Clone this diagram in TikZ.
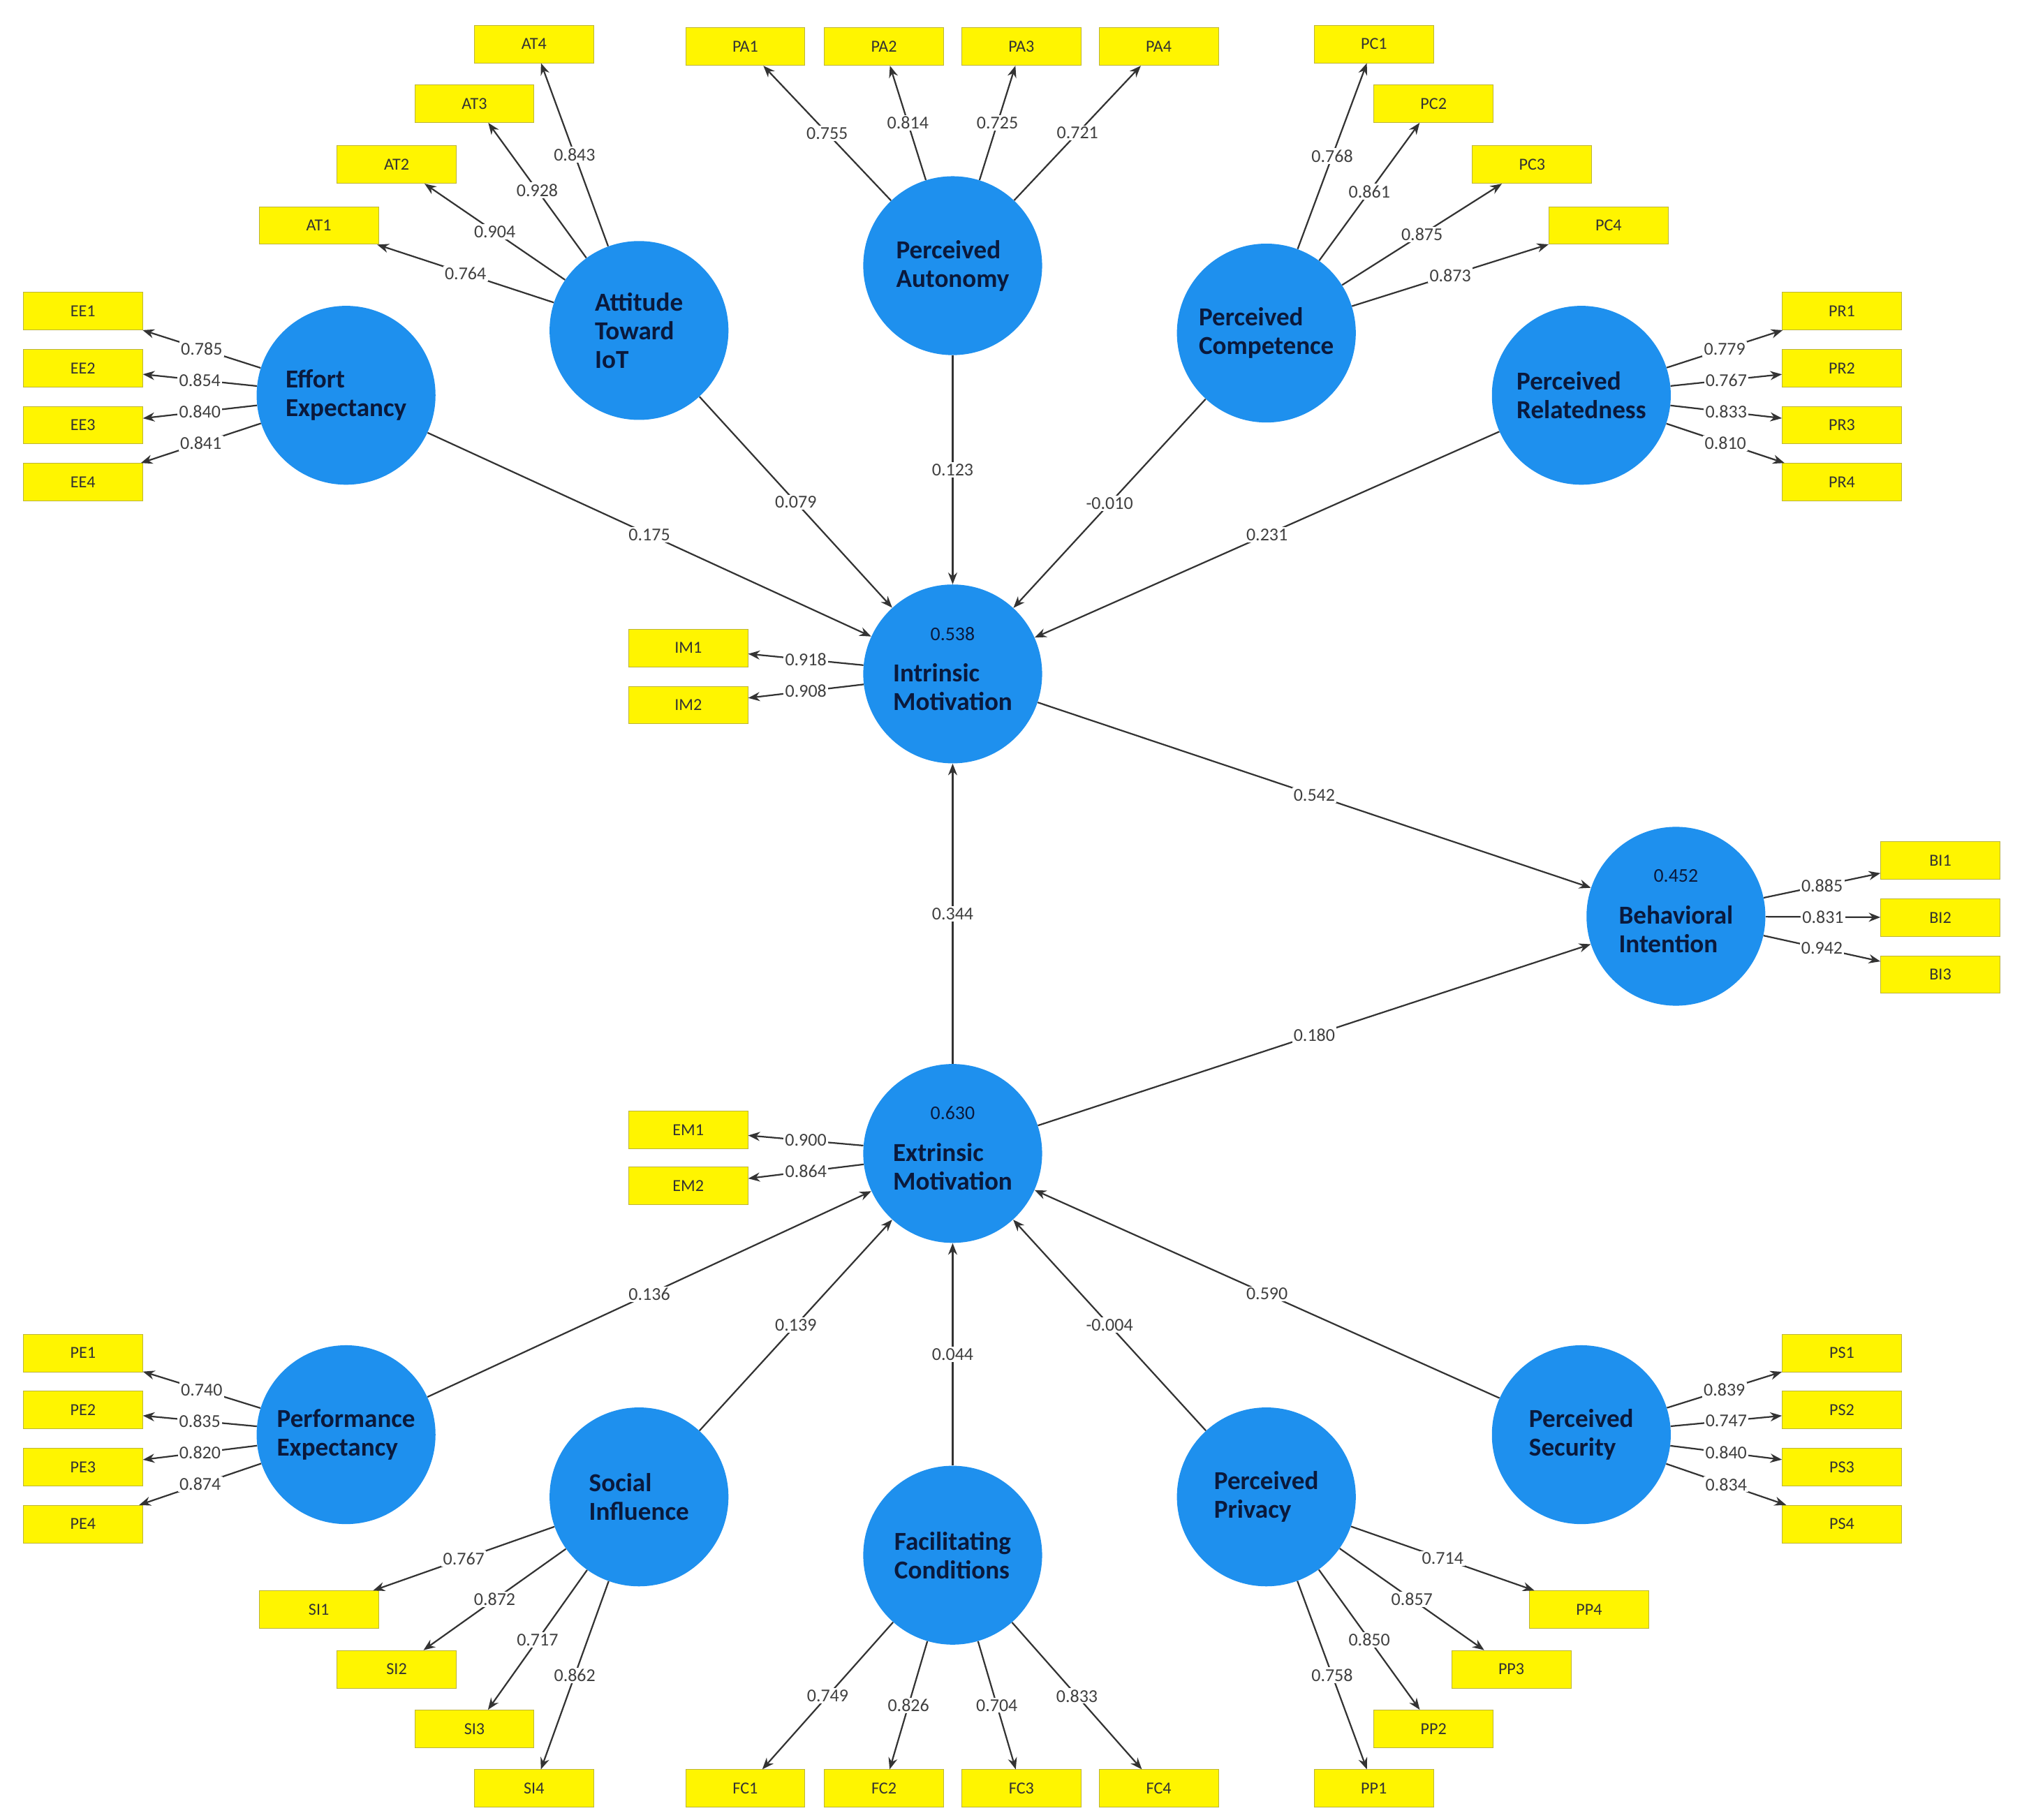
\documentclass[tikz,border=0pt]{standalone}
\usepackage{fontspec}
\setmainfont{Carlito}
\usetikzlibrary{arrows.meta}
\definecolor{cblue}{RGB}{30,144,238}
\definecolor{ctxt}{RGB}{10,25,60}
\definecolor{ybox}{RGB}{255,245,0}
\begin{document}
\begin{tikzpicture}[x=1pt,y=-1pt,
  lv/.style={circle,fill=cblue,minimum size=138pt,inner sep=0pt},
  ct/.style={font=\fontsize{20}{22}\selectfont\bfseries,text=ctxt,align=left},
  rt/.style={font=\fontsize{15}{16}\selectfont,text=ctxt},
  ind/.style={rectangle,fill=ybox,draw=yellow!70!black,line width=0.5pt,minimum width=92pt,minimum height=29pt,inner sep=0pt,font=\fontsize{13}{14}\selectfont,text=black!80},
  ld/.style={draw=black!80,line width=1.2pt,-{Stealth[length=9pt,width=7pt]}},
  lbl/.style={fill=white,inner sep=1.2pt,font=\fontsize{14}{15}\selectfont,text=black!75}]
\useasboundingbox (0,0) rectangle (1560,1404);
\fill[white] (0,0) rectangle (1560,1404);
% latent variables
\node[lv] (EE) at (267,305) {};
\node[lv] (AT) at (493,255) {};
\node[lv] (PA) at (735,205) {};
\node[lv] (PC) at (977,257) {};
\node[lv] (PR) at (1220,305) {};
\node[lv] (IM) at (735,520) {};
\node[lv] (BI) at (1293,707) {};
\node[lv] (EM) at (735,890) {};
\node[lv] (PE) at (267,1107) {};
\node[lv] (SI) at (493,1155) {};
\node[lv] (FC) at (735,1200) {};
\node[lv] (PP) at (977,1155) {};
\node[lv] (PS) at (1220,1107) {};
\node[ct] at (EE) {Effort\\Expectancy};
\node[ct] at (AT) {Attitude\\Toward\\IoT};
\node[ct] at (PA) {Perceived\\Autonomy};
\node[ct] at (PC) {Perceived\\Competence};
\node[ct] at (PR) {Perceived\\Relatedness};
\node[ct] at ([yshift=-10pt]IM) {Intrinsic\\Motivation};
\node[rt] at ([yshift=31pt]IM) {0.538};
\node[ct] at ([yshift=-10pt]BI) {Behavioral\\Intention};
\node[rt] at ([yshift=31pt]BI) {0.452};
\node[ct] at ([yshift=-10pt]EM) {Extrinsic\\Motivation};
\node[rt] at ([yshift=31pt]EM) {0.630};
\node[ct] at (PE) {Performance\\Expectancy};
\node[ct] at (SI) {Social\\Influence};
\node[ct] at (FC) {Facilitating\\Conditions};
\node[ct] at (PP) {Perceived\\Privacy};
\node[ct] at (PS) {Perceived\\Security};
% indicators
\foreach \n/\x/\y in {AT4/412/34,AT3/366/80,AT2/306/127,AT1/246/174,
 PA1/575/36,PA2/682/36,PA3/788/36,PA4/894/36,
 PC1/1060/34,PC2/1106/80,PC3/1182/127,PC4/1241/174,
 EE1/64/240,EE2/64/284,EE3/64/328,EE4/64/372,
 PR1/1421/240,PR2/1421/284,PR3/1421/328,PR4/1421/372,
 IM1/531/500,IM2/531/544,BI1/1497/664,BI2/1497/708,BI3/1497/752,
 EM1/531/872,EM2/531/915,
 PE1/64/1044,PE2/64/1088,PE3/64/1132,PE4/64/1176,
 PS1/1421/1044,PS2/1421/1088,PS3/1421/1132,PS4/1421/1176,
 SI1/246/1242,SI2/306/1288,SI3/366/1334,SI4/412/1380,
 FC1/575/1380,FC2/682/1380,FC3/788/1380,FC4/894/1380,
 PP4/1226/1242,PP3/1166/1288,PP2/1106/1334,PP1/1060/1380}
 \node[ind] (\n) at (\x,\y) {\n};
% loadings
\foreach \c/\b/\v in {AT/AT4/0.843,AT/AT3/0.928,AT/AT2/0.904,AT/AT1/0.764,
 PA/PA1/0.755,PA/PA2/0.814,PA/PA3/0.725,PA/PA4/0.721,
 PC/PC1/0.768,PC/PC2/0.861,PC/PC3/0.875,PC/PC4/0.873,
 EE/EE1/0.785,EE/EE2/0.854,EE/EE3/0.840,EE/EE4/0.841,
 PR/PR1/0.779,PR/PR2/0.767,PR/PR3/0.833,PR/PR4/0.810,
 IM/IM1/0.918,IM/IM2/0.908,BI/BI1/0.885,BI/BI2/0.831,BI/BI3/0.942,
 EM/EM1/0.900,EM/EM2/0.864,
 PE/PE1/0.740,PE/PE2/0.835,PE/PE3/0.820,PE/PE4/0.874,
 PS/PS1/0.839,PS/PS2/0.747,PS/PS3/0.840,PS/PS4/0.834,
 SI/SI1/0.767,SI/SI2/0.872,SI/SI3/0.717,SI/SI4/0.862,
 FC/FC1/0.749,FC/FC2/0.826,FC/FC3/0.704,FC/FC4/0.833,
 PP/PP4/0.714,PP/PP3/0.857,PP/PP2/0.850,PP/PP1/0.758}
 \draw[ld] (\c) -- node[lbl]{\v} (\b);
% structural paths
\foreach \a/\b/\v in {EE/IM/0.175,AT/IM/0.079,PA/IM/0.123,PC/IM/-0.010,PR/IM/0.231,
 IM/BI/0.542,EM/BI/0.180,EM/IM/0.344,
 PE/EM/0.136,SI/EM/0.139,FC/EM/0.044,PP/EM/-0.004,PS/EM/0.590}
 \draw[ld] (\a) -- node[lbl]{\v} (\b);
\end{tikzpicture}
\end{document}
